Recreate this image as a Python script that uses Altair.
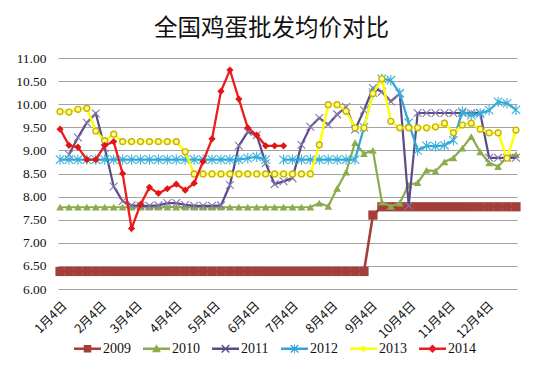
import altair as alt
import pandas as pd

years = ["2009", "2010", "2011", "2012", "2013", "2014"]
# weekly observations, expressed as day of year (0 = 1月1日); the first one is 1月4日
obs_days = [3 + 7 * i for i in range(52)]
tick_days = [3, 34, 62, 93, 123, 154, 184, 215, 246, 276, 307, 337]
tick_labels = ["1月4日", "2月4日", "3月4日", "4月4日", "5月4日", "6月4日",
               "7月4日", "8月4日", "9月4日", "10月4日", "11月4日", "12月4日"]

p2009 = [6.38, 6.38, 6.38, 6.38, 6.38, 6.38, 6.38, 6.38, 6.38, 6.38,
         6.38, 6.38, 6.38, 6.38, 6.38, 6.38, 6.38, 6.38, 6.38, 6.38,
         6.38, 6.38, 6.38, 6.38, 6.38, 6.38, 6.38, 6.38, 6.38, 6.38,
         6.38, 6.38, 6.38, 6.38, 6.38, 7.60, 7.78, 7.78, 7.78, 7.78,
         7.78, 7.78, 7.78, 7.78, 7.78, 7.78, 7.78, 7.78, 7.78, 7.78,
         7.78, 7.78]
p2010 = [7.77, 7.77, 7.77, 7.77, 7.77, 7.77, 7.77, 7.77, 7.77, 7.77,
         7.77, 7.77, 7.77, 7.77, 7.77, 7.77, 7.77, 7.77, 7.77, 7.77,
         7.77, 7.77, 7.77, 7.77, 7.77, 7.77, 7.77, 7.77, 7.77, 7.86,
         7.79, 8.18, 8.53, 9.17, 8.93, 9.00, 7.88, 7.79, 7.86, 8.25,
         8.30, 8.57, 8.55, 8.75, 8.84, 9.05, 9.30, 8.97, 8.73, 8.65,
         8.85, 8.91]
p2011 = [None, 8.91, 9.28, 9.60, 9.80, 9.05, 8.22, 7.90, 7.81, 7.80,
         7.80, 7.81, 7.86, 7.86, 7.82, 7.80, 7.80, 7.80, 7.81, 8.25,
         9.10, 9.40, 9.33, 8.72, 8.27, 8.33, 8.40, 9.12, 9.51, 9.70,
         9.56, 9.78, 9.94, 9.45, 9.87, 10.35, 10.27, 10.06, 10.23, 7.80,
         9.81, 9.81, 9.81, 9.81, 9.81, 9.81, 9.81, 9.81, 8.84, 8.84,
         8.84, 8.84]
p2012 = [8.80, 8.80, 8.80, 8.80, 8.80, 8.80, 8.80, 8.80, 8.80, 8.80,
         8.80, 8.80, 8.80, 8.80, 8.80, 8.80, 8.80, 8.80, 8.80, 8.80,
         8.80, 8.83, 8.86, 8.80, None, 8.80, 8.80, 8.80, 8.80, 8.80,
         8.80, 8.80, 8.80, 8.80, 9.50, 10.25, 10.55, 10.52, 10.24, 9.60,
         9.00, 9.10, 9.09, 9.11, 9.22, 9.84, 9.76, 9.80, 9.87, 10.05,
         10.02, 9.88]
p2013 = [9.84, 9.83, 9.89, 9.91, 9.42, 9.21, 9.35, 9.19, 9.19, 9.19,
         9.19, 9.19, 9.19, 9.19, 8.97, 8.49, 8.49, 8.49, 8.49, 8.49,
         8.49, 8.49, 8.49, 8.49, 8.49, 8.49, 8.49, 8.49, 8.49, 9.12,
         9.99, 9.99, 9.85, 9.49, 9.49, 10.23, 10.55, 9.63, 9.49, 9.49,
         9.49, 9.49, 9.51, 9.59, 9.38, 9.55, 9.59, 9.46, 9.38, 9.38,
         8.83, 9.44]
p2014 = [9.46, 9.11, 9.07, 8.80, 8.80, 9.11, 9.19, 8.50, 7.31, 7.83,
         8.20, 8.07, 8.17, 8.27, 8.14, 8.29, 8.76, 9.25, 10.28, 10.74,
         10.11, 9.49, 9.33, 9.10, 9.10, 9.10]

series = dict(zip(years, [p2009, p2010, p2011, p2012, p2013, p2014]))

rows = []
for yr, vals in series.items():
    seg = 0
    for d, v in zip(obs_days, vals):
        if v is None:
            seg += 1
            continue
        rows.append({"year": yr, "day": d, "price": v, "seg": f"{yr}-{seg}"})
df = pd.DataFrame(rows)

colors = ["#a43e3b", "#8bab4c", "#5d4a88", "#2ea7d6", "#ffff00", "#ee1c1c"]
line_widths = [2.6, 2.2, 2.2, 2.2, 2.4, 2.3]

X_PATH = "M-1,-1L1,1M-1,1L1,-1"
STAR_PATH = "M-1,-1L1,1M-1,1L1,-1M0,-1.25L0,1.25"
marker_styles = [
    dict(shape="square", size=85, filled=True, color="#a43e3b"),
    dict(shape="triangle-up", size=60, filled=True, color="#8bab4c"),
    dict(shape=X_PATH, size=60, filled=False, color="#8577aa", strokeWidth=1.1),
    dict(shape=STAR_PATH, size=70, filled=False, color="#38b0dc", strokeWidth=1.1),
    dict(shape="circle", size=34, filled=True, fill="#ffff90", stroke="#c9b300", strokeWidth=1.4),
    dict(shape="diamond", size=52, filled=True, color="#e31414"),
]

BAR = "M-1,-0.085H1V0.085H-1Z"
legend_paths = [
    BAR + "M-0.28,-0.28H0.28V0.28H-0.28Z",
    BAR + "M0,-0.33L0.33,0.26L-0.33,0.26Z",
    BAR + "M-0.245,-0.315L0.315,0.245L0.245,0.315L-0.315,-0.245Z"
          "M-0.245,0.315L-0.315,0.245L0.245,-0.315L0.315,-0.245Z",
    BAR + "M-0.245,-0.315L0.315,0.245L0.245,0.315L-0.315,-0.245Z"
          "M-0.245,0.315L-0.315,0.245L0.245,-0.315L0.315,-0.245Z"
          "M-0.035,-0.34H0.035V0.34H-0.035Z",
    BAR + "M0,-0.22L0.156,-0.156L0.22,0L0.156,0.156L0,0.22L-0.156,0.156L-0.22,0L-0.156,-0.156Z",
    BAR + "M0,-0.32L0.32,0L0,0.32L-0.32,0Z",
]

days_js = "[" + ",".join(str(d) for d in tick_days) + "]"
labels_js = "[" + ",".join(f"'{t}'" for t in tick_labels) + "]"
label_expr = f"indexof({days_js}, datum.value) >= 0 ? {labels_js}[indexof({days_js}, datum.value)] : ''"

x_enc = alt.X(
    "day:Q",
    scale=alt.Scale(domain=[1.4, 360.8], nice=False, zero=False),
    axis=alt.Axis(values=tick_days, labelExpr=label_expr, title=None, grid=False,
                  domain=False, ticks=False, labelAngle=-45, labelAlign="right",
                  labelBaseline="top", labelPadding=10, labelFont="Noto Sans CJK SC",
                  labelFontSize=12.5, labelColor="#111", labelOverlap=False, labelBound=False),
)
y_values = [6.0, 6.5, 7.0, 7.5, 8.0, 8.5, 9.0, 9.5, 10.0, 10.5, 11.0]
y_enc = alt.Y(
    "price:Q",
    scale=alt.Scale(domain=[6, 11], nice=False, zero=False),
    axis=alt.Axis(values=y_values, format=".2f", title=None, grid=True, gridColor="#a3a3a3",
                  gridWidth=1, domain=False, ticks=False, labelPadding=12,
                  labelFont="Liberation Serif", labelFontSize=13.5, labelColor="#111"),
)

base = alt.Chart(df)
layers = []
for yr, col, lw, ms in zip(years, colors, line_widths, marker_styles):
    sub = base.transform_filter(alt.datum.year == yr)
    layers.append(sub.mark_line(color=col, strokeWidth=lw, opacity=1).encode(
        x=x_enc, y=y_enc, detail="seg:N"))
    layers.append(sub.mark_point(opacity=1, **ms).encode(x=x_enc, y=y_enc))

leg_kwargs = dict(title=None, orient="none", legendX=16, legendY=277, direction="horizontal",
                  columns=6, symbolSize=729, symbolStrokeWidth=0, symbolOpacity=1,
                  labelFont="Liberation Serif", labelFontSize=14, labelColor="#111",
                  labelOffset=2, columnPadding=12)
legend_layer = base.transform_filter("false").mark_point(filled=True, opacity=1).encode(
    x=x_enc, y=y_enc,
    color=alt.Color("year:N", scale=alt.Scale(domain=years, range=colors),
                    legend=alt.Legend(**leg_kwargs)),
    shape=alt.Shape("year:N", scale=alt.Scale(domain=years, range=legend_paths),
                    legend=alt.Legend(**leg_kwargs)),
)
layers.append(legend_layer)

chart = alt.layer(*layers).properties(
    width=459, height=231,
    autosize=alt.AutoSizeParams(type="none"),
    padding={"left": 50, "top": 50, "right": 22, "bottom": 70},
    title=alt.TitleParams("全国鸡蛋批发均价对比", font="Noto Sans CJK SC", fontSize=23.5,
                          fontWeight="normal", color="#111", anchor="middle", dx=-16, offset=11),
    background="white",
).configure_view(stroke=None)

chart.save("out.html", embed_options={"renderer": "svg", "actions": False})
